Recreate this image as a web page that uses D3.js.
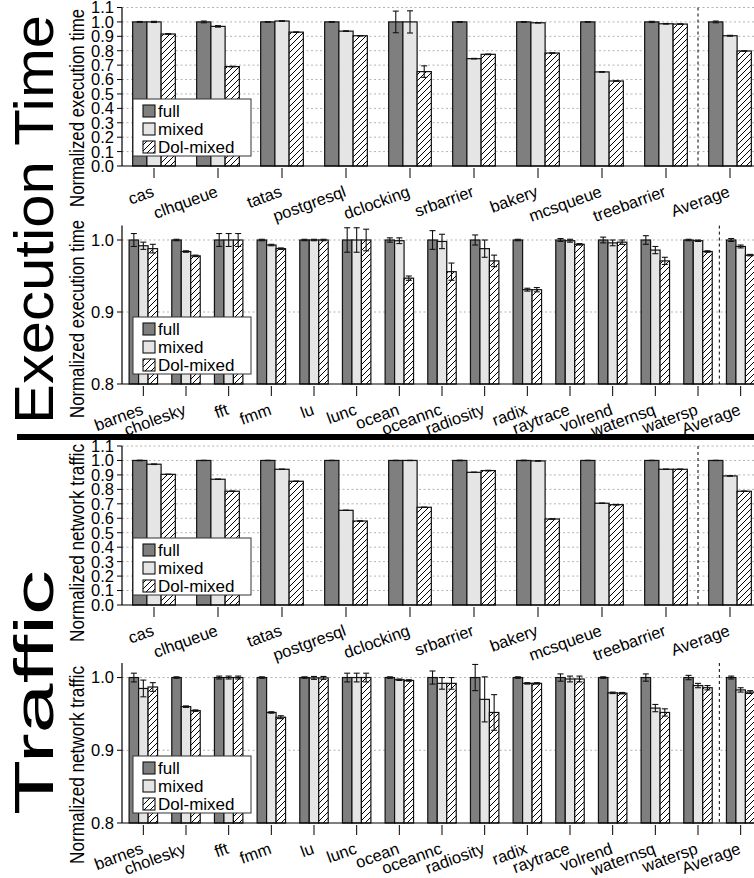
<!DOCTYPE html>
<html><head><meta charset="utf-8">
<script src="https://cdn.jsdelivr.net/npm/d3@7"></script>
<style>
html,body{margin:0;padding:0;background:#fff;}
svg{display:block;}
text{font-family:"Liberation Sans",Arial,sans-serif;fill:#000;}
</style></head>
<body>
<svg id="chart" width="754" height="878"></svg>
<script>
// ---------- data ----------
const seriesNames = ["full", "mixed", "Dol-mixed"];
const synthCats = ["cas","clhqueue","tatas","postgresql","dclocking","srbarrier","bakery","mcsqueue","treebarrier","Average"];
const splashCats = ["barnes","cholesky","fft","fmm","lu","lunc","ocean","oceannc","radiosity","radix","raytrace","volrend","waternsq","watersp","Average"];
const synthTicks = [0.0,0.1,0.2,0.3,0.4,0.5,0.6,0.7,0.8,0.9,1.0,1.1];
const splashTicks = [0.8,0.9,1.0];

// Execution time, synthetic benchmarks
const execSynthFull     = [1,1,1,1,1,1,1,1,1,1];
const execSynthFullErr  = [0.003,0.006,0.002,0.002,0.075,0.002,0.002,0.002,0.004,0.006];
const execSynthMixed    = [1.0,0.969,1.006,0.936,1.0,0.745,0.994,0.653,0.987,0.904];
const execSynthMixedErr = [0.004,0.005,0.002,0.002,0.077,0.002,0.001,0.002,0.002,0.003];
const execSynthDol      = [0.916,0.69,0.929,0.904,0.655,0.775,0.784,0.59,0.985,0.798];
const execSynthDolErr   = [0.002,0.002,0.001,0.001,0.04,0.002,0.001,0.001,0.002,0.001];

// Execution time, SPLASH benchmarks
const execSplashFull     = [1,1,1,1,1,1,1,1,1,1,1,1,1,1,1];
const execSplashFullErr  = [0.009,0.001,0.009,0.001,0.001,0.017,0.003,0.013,0.007,0.001,0.002,0.004,0.006,0.001,0.002];
const execSplashMixed    = [0.992,0.984,1.0,0.993,1.0,1.0,0.999,0.998,0.988,0.931,0.999,0.996,0.986,0.999,0.991];
const execSplashMixedErr = [0.005,0.001,0.009,0.001,0.001,0.017,0.004,0.01,0.012,0.002,0.002,0.004,0.005,0.001,0.002];
const execSplashDol      = [0.988,0.978,1.0,0.988,1.0,1.0,0.947,0.956,0.971,0.931,0.994,0.997,0.971,0.984,0.979];
const execSplashDolErr   = [0.006,0.001,0.009,0.001,0.001,0.015,0.003,0.012,0.008,0.003,0.001,0.003,0.005,0.001,0.001];

// Network traffic, synthetic benchmarks
const trafSynthFull     = [1,1,1,1,1,1,1,1,1,1];
const trafSynthFullErr  = [0.002,0.001,0.001,0.001,0.001,0.002,0.002,0.001,0.001,0.001];
const trafSynthMixed    = [0.974,0.87,0.939,0.655,1.0,0.918,0.997,0.704,0.939,0.893];
const trafSynthMixedErr = [0.002,0.001,0.001,0.001,0.001,0.001,0.002,0.001,0.001,0.001];
const trafSynthDol      = [0.904,0.787,0.856,0.581,0.676,0.93,0.595,0.694,0.939,0.787];
const trafSynthDolErr   = [0.001,0.001,0.001,0.001,0.001,0.002,0.001,0.002,0.001,0.001];

// Network traffic, SPLASH benchmarks
const trafSplashFull     = [1,1,1,1,1,1,1,1,1,1,1,1,1,1,1];
const trafSplashFullErr  = [0.006,0.001,0.002,0.001,0.001,0.006,0.001,0.009,0.018,0.001,0.005,0.001,0.005,0.003,0.002];
const trafSplashMixed    = [0.985,0.96,1.0,0.952,0.9995,1.0,0.997,0.992,0.97,0.992,0.998,0.979,0.958,0.989,0.983];
const trafSplashMixedErr = [0.0115,0.001,0.002,0.001,0.002,0.006,0.001,0.008,0.031,0.001,0.004,0.001,0.005,0.003,0.003];
const trafSplashDol      = [0.987,0.9545,1.0,0.9455,0.9995,1.0,0.996,0.992,0.952,0.992,0.998,0.9785,0.952,0.986,0.98];
const trafSplashDolErr   = [0.006,0.001,0.002,0.002,0.002,0.006,0.001,0.008,0.0245,0.001,0.004,0.001,0.005,0.003,0.002];

const sectionTitles = ["Execution Time", "Traffic"];
const yTitles = ["Normalized execution time", "Normalized network traffic"];

// ---------- drawing ----------
const svg = d3.select("#chart");
const defs = svg.append("defs");
const pat = defs.append("pattern").attr("id","hatch").attr("patternUnits","userSpaceOnUse")
  .attr("width",6).attr("height",6);
pat.append("rect").attr("width",6).attr("height",6).attr("fill","#fff");
pat.append("path").attr("d","M0,6 L6,0 M-1.5,1.5 L1.5,-1.5 M4.5,7.5 L7.5,4.5")
  .attr("stroke","#000").attr("stroke-width",1);

const fills = ["#7f7f7f", "#e5e5e5", "url(#hatch)"];
const AXIS_X = 122;

function drawPanel(cfg) {
  const g = svg.append("g");
  const x = d3.scaleBand().domain(cfg.cats).range([AXIS_X, 762]).paddingInner(1/3).paddingOuter(1/6);
  const xs = d3.scaleBand().domain(seriesNames).range([0, x.bandwidth()]);
  const y = d3.scaleLinear().domain(cfg.domain).range(cfg.range);
  const y0 = y(cfg.domain[0]);

  // gridlines
  g.append("g").selectAll("line").data(cfg.ticks.slice(1)).join("line")
    .attr("x1", AXIS_X).attr("x2", 760).attr("y1", d => y(d)).attr("y2", d => y(d))
    .attr("stroke", "#b3b3b3").attr("stroke-width", 1).attr("stroke-dasharray", "2,2.5");

  // separator before Average
  const sepX = x("Average") - (x.step() - x.bandwidth()) / 2;
  g.append("line").attr("x1", sepX).attr("x2", sepX).attr("y1", y(cfg.domain[1])).attr("y2", y0)
    .attr("stroke", "#000").attr("stroke-width", 1).attr("stroke-dasharray", "3,3");

  // bars
  const rows = [];
  cfg.cats.forEach((c, i) => {
    seriesNames.forEach((s, k) => {
      rows.push({cat: c, s: s, k: k, v: cfg.vals[k][i], e: cfg.errs[k][i]});
    });
  });
  g.append("g").selectAll("rect").data(rows).join("rect")
    .attr("x", d => x(d.cat) + xs(d.s))
    .attr("width", xs.bandwidth())
    .attr("y", d => y(d.v))
    .attr("height", d => y0 - y(d.v))
    .attr("fill", d => fills[d.k])
    .attr("stroke", "#111").attr("stroke-width", 1.2);

  // error bars
  const eg = g.append("g").attr("stroke", "#111").attr("stroke-width", 1.1);
  rows.forEach(d => {
    const cx = x(d.cat) + xs(d.s) + xs.bandwidth() / 2;
    const yt = y(d.v + d.e), yb = y(d.v - d.e);
    eg.append("line").attr("x1", cx).attr("x2", cx).attr("y1", yt).attr("y2", yb);
    eg.append("line").attr("x1", cx - 3).attr("x2", cx + 3).attr("y1", yt).attr("y2", yt);
    eg.append("line").attr("x1", cx - 3).attr("x2", cx + 3).attr("y1", yb).attr("y2", yb);
  });

  // x axis
  g.append("line").attr("x1", AXIS_X).attr("x2", 760).attr("y1", y0).attr("y2", y0)
    .attr("stroke", "#000").attr("stroke-width", 1.2);
  g.append("g").selectAll("line").data(cfg.cats).join("line")
    .attr("x1", d => x(d) + x.bandwidth() / 2).attr("x2", d => x(d) + x.bandwidth() / 2)
    .attr("y1", y0 + 2).attr("y2", y0 + 12).attr("stroke", "#000").attr("stroke-width", 1);
  const lab = g.append("g").selectAll("g").data(cfg.cats).join("g")
    .attr("transform", d => "translate(" + (x(d) + x.bandwidth() / 2 + 1) + "," + (y0 + 30) + ")");
  lab.append("text")
    .attr("text-anchor", "end").attr("font-size", 16.5)
    .attr("transform", "rotate(-20)")
    .text(d => d);

  // y axis
  g.append("line").attr("x1", AXIS_X).attr("x2", AXIS_X).attr("y1", y(cfg.domain[1])).attr("y2", y0)
    .attr("stroke", "#000").attr("stroke-width", 1.2);
  g.append("g").selectAll("line").data(cfg.ticks).join("line")
    .attr("x1", AXIS_X - 5).attr("x2", AXIS_X).attr("y1", d => y(d)).attr("y2", d => y(d))
    .attr("stroke", "#000").attr("stroke-width", 1);
  g.append("g").selectAll("text").data(cfg.ticks).join("text")
    .attr("x", AXIS_X - 8).attr("y", d => y(d)).attr("dy", "0.36em")
    .attr("text-anchor", "end").attr("font-size", 16.5)
    .text(d => d3.format(".1f")(d));

  // y title
  g.append("text").attr("transform", "translate(84," + cfg.titleY + ") rotate(-90)")
    .attr("text-anchor", "middle").attr("font-size", 21)
    .attr("font-family", "'Liberation Sans Narrow','DejaVu Sans Condensed',sans-serif")
    .attr("textLength", 198).attr("lengthAdjust", "spacingAndGlyphs")
    .text(cfg.title);

  // legend
  const top = y0 - 67;
  const lg = g.append("g");
  lg.append("rect").attr("x", 133).attr("y", top).attr("width", 118).attr("height", 57)
    .attr("fill", "#fff").attr("stroke", "#333").attr("stroke-width", 1);
  seriesNames.forEach((s, k) => {
    const ry = top + 12 + k * 18;
    lg.append("rect").attr("x", 143).attr("y", ry - 6).attr("width", 12).attr("height", 12)
      .attr("fill", fills[k]).attr("stroke", "#111").attr("stroke-width", 1.1);
    lg.append("text").attr("x", 158).attr("y", ry + 6).attr("font-size", 17).text(s);
  });
}

drawPanel({cats: synthCats, domain: [0, 1.1], range: [166, 7.5], ticks: synthTicks,
  vals: [execSynthFull, execSynthMixed, execSynthDol], errs: [execSynthFullErr, execSynthMixedErr, execSynthDolErr],
  title: yTitles[0], titleY: 108});
drawPanel({cats: splashCats, domain: [0.8, 1.02], range: [384, 225.6], ticks: splashTicks,
  vals: [execSplashFull, execSplashMixed, execSplashDol], errs: [execSplashFullErr, execSplashMixedErr, execSplashDolErr],
  title: yTitles[0], titleY: 319});
drawPanel({cats: synthCats, domain: [0, 1.1], range: [605, 446], ticks: synthTicks,
  vals: [trafSynthFull, trafSynthMixed, trafSynthDol], errs: [trafSynthFullErr, trafSynthMixedErr, trafSynthDolErr],
  title: yTitles[1], titleY: 543});
drawPanel({cats: splashCats, domain: [0.8, 1.02], range: [823, 663], ticks: splashTicks,
  vals: [trafSplashFull, trafSplashMixed, trafSplashDol], errs: [trafSplashFullErr, trafSplashMixedErr, trafSplashDolErr],
  title: yTitles[1], titleY: 765});

// section separator
svg.append("rect").attr("x", 17).attr("y", 434).attr("width", 740).attr("height", 6).attr("fill", "#000");

// big section titles
svg.append("text").attr("transform", "translate(53,424) rotate(-90)")
  .attr("font-family", "'DejaVu Sans Condensed','DejaVu Sans',sans-serif").attr("font-size", 56)
  .attr("textLength", 409).attr("lengthAdjust", "spacingAndGlyphs")
  .text(sectionTitles[0]);
svg.append("text").attr("transform", "translate(53,815) rotate(-90)")
  .attr("font-family", "'DejaVu Sans Condensed','DejaVu Sans',sans-serif").attr("font-size", 56)
  .attr("textLength", 245).attr("lengthAdjust", "spacingAndGlyphs")
  .text(sectionTitles[1]);
</script>
</body></html>
